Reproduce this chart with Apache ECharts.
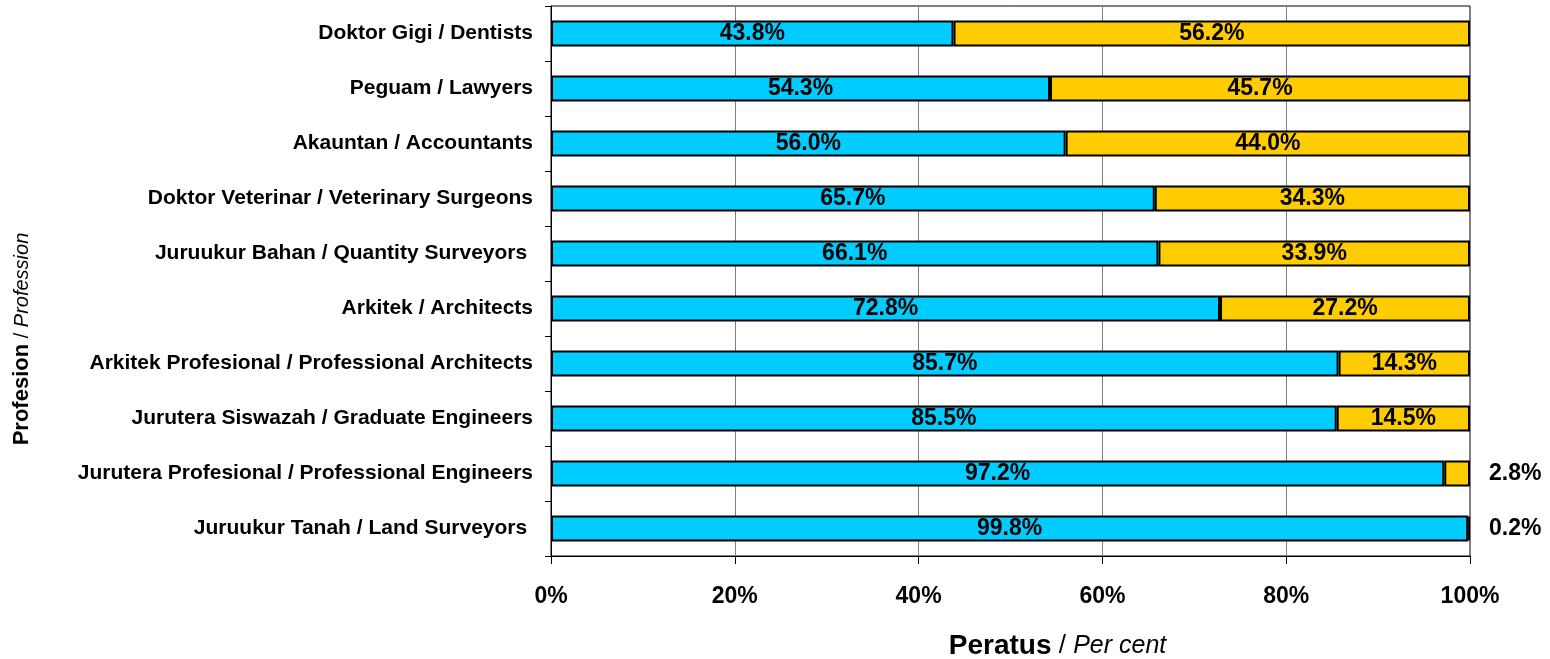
<!DOCTYPE html>
<html>
<head>
<meta charset="utf-8">
<script src="https://cdn.jsdelivr.net/npm/echarts@6/dist/echarts.min.js"></script>
<style>html,body{margin:0;padding:0;background:#fff}#c{width:1550px;height:659px}</style>
</head>
<body>
<div id="c"></div>
<script>
const categories = [
  'Doktor Gigi / Dentists',
  'Peguam / Lawyers',
  'Akauntan / Accountants',
  'Doktor Veterinar / Veterinary Surgeons',
  'Juruukur Bahan / Quantity Surveyors ',
  'Arkitek / Architects',
  'Arkitek Profesional / Professional Architects',
  'Jurutera Siswazah / Graduate Engineers',
  'Jurutera Profesional / Professional Engineers',
  'Juruukur Tanah / Land Surveyors '
];
const seriesA = [43.8, 54.3, 56.0, 65.7, 66.1, 72.8, 85.7, 85.5, 97.2, 99.8];
const seriesB = [56.2, 45.7, 44.0, 34.3, 33.9, 27.2, 14.3, 14.5, 2.8, 0.2];
const xTicks = [0, 20, 40, 60, 80, 100];

const FONT = 'Liberation Sans, Arial, sans-serif';
const chart = echarts.init(document.getElementById('c'), null, {renderer: 'canvas'});

const dataB = seriesB.map(v => {
  if (v < 5) {
    return {value: v, label: {position: 'right', distance: 19}};
  }
  return v;
});

const valueLabel = {show: true, position: 'inside', formatter: p => p.value.toFixed(1) + '%', fontFamily: FONT, fontWeight: 'bold', fontSize: 23, color: '#000'};

chart.setOption({
  animation: false,
  grid: {left: 551, right: 80, top: 6, bottom: 103, show: true, borderColor: '#000', borderWidth: 1, containLabel: false, outerBoundsMode: 'none'},
  xAxis: {
    type: 'value', min: 0, max: 100, interval: 20,
    axisLine: {show: true, lineStyle: {color: '#000', width: 1}},
    axisTick: {show: true, length: 8, lineStyle: {color: '#000'}},
    splitLine: {show: true, lineStyle: {color: '#808080', width: 1}},
    axisLabel: {formatter: v => xTicks.includes(v) ? v + '%' : '', fontFamily: FONT, fontWeight: 'bold', fontSize: 23, color: '#000', margin: 29},
    name: '{b|Peratus}{n| / }{i|Per cent}',
    nameLocation: 'middle', nameGap: 76,
    nameTextStyle: {padding: [0, 0, 0, 94], rich: {
      b: {fontFamily: FONT, fontWeight: 'bold', fontSize: 28, color: '#000'},
      n: {fontFamily: FONT, fontSize: 26, color: '#000'},
      i: {fontFamily: FONT, fontStyle: 'italic', fontSize: 25, color: '#000'}
    }}
  },
  yAxis: {
    type: 'category', data: categories, inverse: true,
    axisLine: {show: true, lineStyle: {color: '#000', width: 1}},
    axisTick: {show: true, length: 6, lineStyle: {color: '#000'}},
    axisLabel: {fontFamily: FONT, fontWeight: 'bold', fontSize: 21, color: '#000', margin: 18}
  },
  graphic: [{
    type: 'text', x: 11, y: 339, rotation: Math.PI / 2,
    style: {
      text: '{b|Profesion}{n| / }{i|Profession}',
      align: 'center', verticalAlign: 'top',
      rich: {
        b: {fontFamily: FONT, fontWeight: 'bold', fontSize: 22, fill: '#000'},
        n: {fontFamily: FONT, fontSize: 20, fill: '#000'},
        i: {fontFamily: FONT, fontStyle: 'italic', fontSize: 20, fill: '#000'}
      }
    }
  }],
  series: [
    {
      type: 'bar', stack: 'total', data: seriesA, barWidth: '47%',
      itemStyle: {color: '#00CCFF', borderColor: '#000', borderWidth: 2},
      label: valueLabel
    },
    {
      type: 'bar', stack: 'total', data: dataB, barWidth: '47%',
      itemStyle: {color: '#FFCC00', borderColor: '#000', borderWidth: 2},
      label: valueLabel
    }
  ]
});
</script>
</body>
</html>
